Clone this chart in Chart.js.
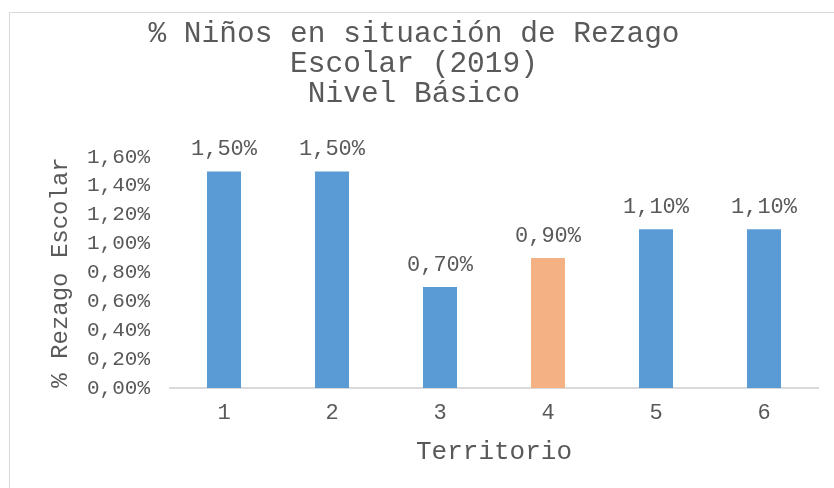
<!DOCTYPE html>
<html>
<head>
<meta charset="utf-8">
<script src="https://cdn.jsdelivr.net/npm/chart.js@4/dist/chart.umd.min.js"></script>
<style>
  html, body { margin: 0; padding: 0; background: #fff; overflow: hidden; width: 834px; height: 488px; }
  #box { position: absolute; left: 9px; top: 12px; width: 940px; height: 520px;
         border-left: 1px solid #d9d9d9; border-top: 1px solid #d9d9d9; }
  #wrap { position: absolute; left: 0; top: 0; width: 918px; height: 500px; }
</style>
</head>
<body>
<div id="box"><div id="wrap"><canvas id="myChart"></canvas></div></div>
<script>
var territorios = ['1', '2', '3', '4', '5', '6'];
var rezago = [1.5, 1.5, 0.7, 0.9, 1.1, 1.1];
var barColors = ['#5b9bd5', '#5b9bd5', '#5b9bd5', '#f4b183', '#5b9bd5', '#5b9bd5'];
var yTicks = [0, 0.2, 0.4, 0.6, 0.8, 1.0, 1.2, 1.4, 1.6];

var FONT = '"Liberation Mono", "DejaVu Sans Mono", monospace';
var GREY = '#595959';

function pct(v) {
    return v.toFixed(2).replace('.', ',') + '%';
}

// draws value labels above the bars
var valueLabels = {
    id: 'valueLabels',
    afterDatasetsDraw: function (chart) {
        var ctx = chart.ctx;
        var meta = chart.getDatasetMeta(0);
        ctx.save();
        ctx.font = '22px ' + FONT;
        ctx.fillStyle = GREY;
        ctx.textAlign = 'center';
        ctx.textBaseline = 'middle';
        meta.data.forEach(function (bar, i) {
            ctx.fillText(pct(rezago[i]), bar.x, bar.y - 22);
        });
        ctx.restore();
    }
};

var ctx = document.getElementById('myChart').getContext('2d');
var chart = new Chart(ctx, {
    type: 'bar',
    data: {
        labels: territorios,
        datasets: [{
            data: rezago,
            backgroundColor: barColors,
            borderWidth: 0,
            barPercentage: 1,
            categoryPercentage: 0.315
        }]
    },
    options: {
        responsive: true,
        maintainAspectRatio: false,
        animation: false,
        layout: { padding: { left: 0, right: 110, top: 0, bottom: 0 } },
        plugins: {
            legend: { display: false },
            tooltip: { enabled: false },
            title: {
                display: true,
                text: ['% Niños en situación de Rezago', 'Escolar (2019)', 'Nivel Básico'],
                color: GREY,
                font: { family: FONT, size: 29.5, weight: 'normal', lineHeight: '30px' },
                padding: { top: 6, bottom: 48 }
            }
        },
        scales: {
            x: {
                grid: { display: false, drawTicks: false },
                border: { display: true, color: '#d9d9d9', width: 2 },
                ticks: { color: GREY, font: { family: FONT, size: 22 }, padding: 12 },
                title: {
                    display: true,
                    text: 'Territorio',
                    color: GREY,
                    font: { family: FONT, size: 26 },
                    padding: { top: 0, bottom: 45 }
                },
                afterFit: function (scale) { scale.height = 125; }
            },
            y: {
                min: 0,
                max: 1.6,
                afterBuildTicks: function (scale) {
                    scale.ticks = yTicks.map(function (v) { return { value: v }; });
                },
                grid: { display: false, drawTicks: false },
                border: { display: false },
                ticks: {
                    color: GREY,
                    font: { family: FONT, size: 21 },
                    padding: 20,
                    autoSkip: false,
                    callback: function (v) { return pct(v); }
                },
                title: {
                    display: true,
                    text: '% Rezago Escolar',
                    color: GREY,
                    font: { family: FONT, size: 24 },
                    padding: { top: 36, bottom: 0 }
                },
                afterFit: function (scale) { scale.width = 160; }
            }
        }
    },
    plugins: [valueLabels]
});
</script>
</body>
</html>
